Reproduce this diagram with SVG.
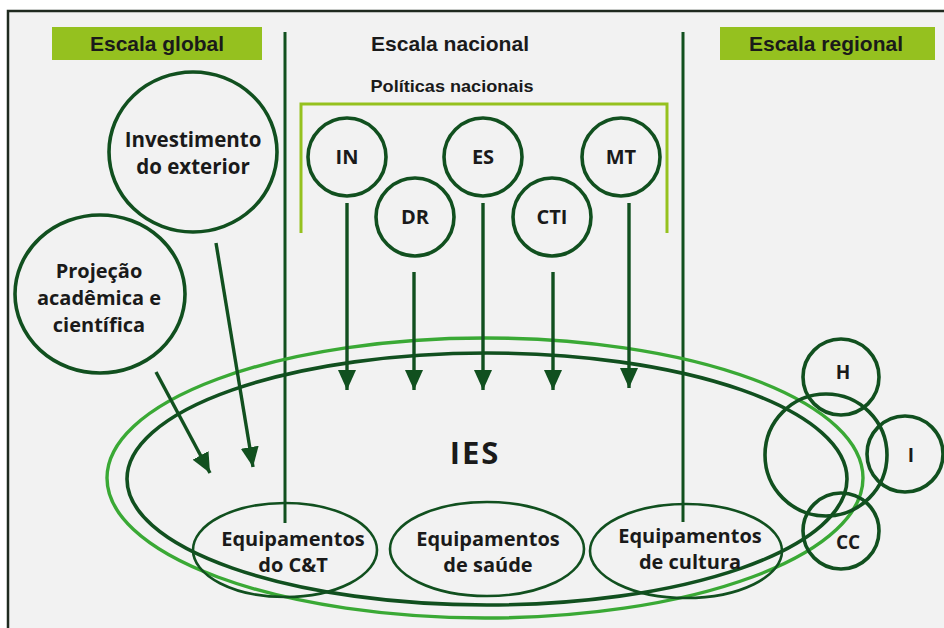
<svg xmlns="http://www.w3.org/2000/svg" width="944" height="628" viewBox="0 0 944 628">
<defs>
<style>
.dk{fill:none;stroke:#11501f;stroke-width:3.6}
.eq{fill:none;stroke:#11501f;stroke-width:2.6}
.ar{fill:none;stroke:#11501f;stroke-width:3.4;marker-end:url(#ah)}
.t{font-family:"Open Sans","Liberation Sans",sans-serif;font-weight:bold;fill:#1a1a1a;text-anchor:middle}
.h{font-family:"Liberation Sans Narrow","Liberation Sans",sans-serif;font-weight:bold;fill:#1a1a1a;text-anchor:middle;font-size:21px}
.box{fill:#95c11f}
</style>
<marker id="ah" viewBox="0 0 20 18" refX="20" refY="9" markerWidth="20" markerHeight="18" markerUnits="userSpaceOnUse" orient="auto">
<path d="M0,0 L20,9 L0,18 z" fill="#11501f"/>
</marker>
</defs>
<rect width="944" height="628" fill="#ffffff"/>
<rect x="8" y="11" width="940" height="620" fill="#f2f2f2"/>
<path d="M8,630 V11 H944" fill="none" stroke="#1f2a1f" stroke-width="2.5"/>

<g id="headers">
<rect class="box" x="52" y="27" width="210" height="33"/>
<text class="h" x="157" y="51" textLength="134" lengthAdjust="spacingAndGlyphs">Escala global</text>
<text class="h" x="450" y="51" textLength="158" lengthAdjust="spacingAndGlyphs">Escala nacional</text>
<rect class="box" x="720" y="27" width="215" height="33"/>
<text class="h" x="826" y="51" textLength="154" lengthAdjust="spacingAndGlyphs">Escala regional</text>
</g>

<g id="dividers">
<line x1="285" y1="32" x2="285" y2="523" stroke="#11501f" stroke-width="3"/>
<line x1="683" y1="32" x2="683" y2="522" stroke="#11501f" stroke-width="3"/>
</g>

<g id="politicas-nacionais">
<text class="h" x="452" y="92" style="font-size:17px" textLength="163" lengthAdjust="spacingAndGlyphs">Políticas nacionais</text>
<path d="M301,233 V104 H667 V233" fill="none" stroke="#95c11f" stroke-width="3"/>
</g>

<g id="ies">
<ellipse cx="485" cy="478" rx="378" ry="140" fill="none" stroke="#3aa935" stroke-width="3.4"/>
<ellipse class="dk" cx="487" cy="479" rx="360" ry="126"/>
<text class="t" x="475" y="464" font-size="31" letter-spacing="2">IES</text>
</g>

<g id="node-IN"><circle class="dk" cx="347" cy="157" r="39"/><text class="t" x="347" y="164" font-size="20">IN</text></g>
<g id="node-DR"><circle class="dk" cx="415" cy="217" r="39"/><text class="t" x="415" y="224" font-size="20">DR</text></g>
<g id="node-ES"><circle class="dk" cx="483" cy="157" r="39"/><text class="t" x="483" y="164" font-size="20">ES</text></g>
<g id="node-CTI"><circle class="dk" cx="552" cy="217" r="39"/><text class="t" x="552" y="224" font-size="20">CTI</text></g>
<g id="node-MT"><circle class="dk" cx="621" cy="157" r="39"/><text class="t" x="621" y="164" font-size="20">MT</text></g>

<g id="node-investimento">
<ellipse class="dk" cx="193" cy="152" rx="84" ry="80"/>
<text class="t" x="193" y="147" font-size="20.5">Investimento</text>
<text class="t" x="193" y="174" font-size="20.5">do exterior</text>
</g>

<g id="node-projecao">
<ellipse class="dk" cx="100" cy="294" rx="85" ry="79"/>
<text class="t" x="99" y="278" font-size="20">Projeção</text>
<text class="t" x="99" y="305" font-size="20">acadêmica e</text>
<text class="t" x="99" y="332" font-size="20">científica</text>
</g>

<g id="node-equip-ct">
<ellipse class="eq" cx="285" cy="550" rx="92" ry="47"/>
<text class="t" x="293" y="546" font-size="20">Equipamentos</text>
<text class="t" x="293" y="572" font-size="20">do C&amp;T</text>
</g>
<g id="node-equip-saude">
<ellipse class="eq" cx="487" cy="549" rx="97" ry="47"/>
<text class="t" x="488" y="546" font-size="20">Equipamentos</text>
<text class="t" x="488" y="572" font-size="20">de saúde</text>
</g>
<g id="node-equip-cultura">
<ellipse class="eq" cx="686" cy="551" rx="96" ry="47"/>
<text class="t" x="690" y="543" font-size="20">Equipamentos</text>
<text class="t" x="690" y="569" font-size="20">de cultura</text>
</g>

<g id="regional">
<circle class="dk" cx="826" cy="455" r="61"/>
<g id="node-H"><circle class="dk" cx="841" cy="377" r="38"/><text class="t" x="843" y="379" font-size="19">H</text></g>
<g id="node-I"><circle class="dk" cx="905" cy="454" r="38"/><text class="t" x="911" y="462" font-size="19">I</text></g>
<g id="node-CC"><circle class="dk" cx="841" cy="531" r="38"/><text class="t" x="848" y="549" font-size="19">CC</text></g>
</g>

<g id="connectors">
<line class="ar" x1="347" y1="203" x2="347" y2="390"/>
<line class="ar" x1="414" y1="272" x2="414" y2="390"/>
<line class="ar" x1="483" y1="203" x2="483" y2="390"/>
<line class="ar" x1="553" y1="272" x2="553" y2="390"/>
<line class="ar" x1="629" y1="203" x2="629" y2="388"/>
<line class="ar" x1="156" y1="372" x2="210" y2="473"/>
<line class="ar" x1="216" y1="243" x2="253" y2="467"/>
</g>
</svg>
